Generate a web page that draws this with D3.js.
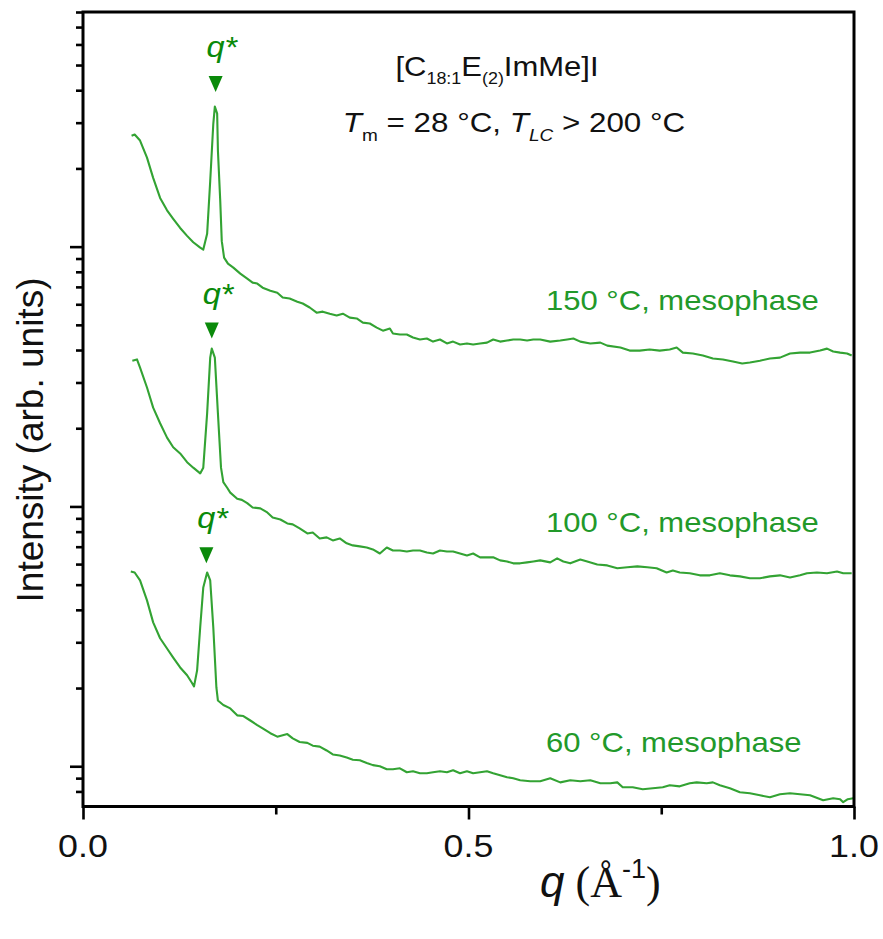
<!DOCTYPE html>
<html><head><meta charset="utf-8">
<script src="https://cdn.jsdelivr.net/npm/d3@7"></script>
<style>body{margin:0;background:#fff} svg{display:block}</style>
</head><body>
<svg id="c" width="883" height="939"></svg>
<script>
// ---- data: [q (1/Å), intensity (arb. units)] ----
const curve150 = [[0.063,267],[0.067,270],[0.074,256],[0.083,220],[0.091,184],[0.100,154],[0.109,138],[0.117,128],[0.126,118],[0.135,110],[0.143,104],[0.152,99.1],[0.156,97.4],[0.161,112],[0.165,179],[0.169,297],[0.171,346],[0.174,325],[0.175,234],[0.178,150],[0.180,105],[0.183,90.7],[0.188,86.0],[0.195,83.0],[0.204,78.7],[0.213,75.3],[0.220,72.7],[0.226,72.1],[0.233,69.5],[0.243,67.7],[0.252,66.5],[0.259,63.7],[0.268,63.1],[0.278,61.4],[0.285,60.4],[0.294,58.3],[0.303,55.7],[0.311,56.2],[0.320,55.2],[0.329,54.3],[0.337,55.2],[0.346,53.3],[0.355,52.9],[0.363,51.0],[0.372,50.6],[0.381,48.8],[0.389,47.5],[0.398,48.4],[0.402,46.3],[0.411,45.9],[0.420,45.9],[0.428,44.7],[0.437,43.9],[0.446,44.3],[0.454,43.1],[0.463,43.9],[0.472,42.4],[0.480,43.1],[0.489,42.0],[0.498,42.4],[0.506,42.0],[0.515,42.4],[0.524,42.7],[0.532,43.9],[0.541,43.1],[0.550,43.5],[0.558,43.9],[0.567,43.9],[0.576,43.5],[0.584,43.9],[0.593,43.9],[0.606,43.1],[0.619,43.5],[0.628,43.9],[0.636,44.3],[0.645,43.1],[0.658,42.4],[0.671,42.7],[0.680,41.6],[0.697,40.9],[0.709,39.8],[0.722,39.8],[0.735,40.2],[0.748,39.8],[0.761,40.2],[0.770,40.9],[0.778,39.1],[0.791,38.8],[0.804,38.1],[0.817,37.1],[0.830,36.8],[0.843,36.1],[0.855,35.5],[0.865,35.8],[0.878,36.4],[0.891,37.1],[0.904,37.4],[0.917,38.8],[0.930,39.1],[0.943,39.1],[0.956,39.8],[0.965,40.5],[0.973,39.5],[0.982,39.1],[0.991,38.8],[0.997,38.1]];

const curve100 = [[0.064,36.4],[0.070,36.8],[0.074,34.2],[0.083,28.7],[0.091,24.0],[0.100,20.9],[0.109,18.4],[0.117,16.9],[0.126,16.0],[0.135,14.8],[0.143,14.1],[0.152,13.4],[0.156,14.1],[0.161,22.8],[0.165,37.4],[0.167,40.5],[0.171,37.4],[0.175,22.8],[0.179,14.1],[0.182,12.4],[0.187,11.8],[0.191,11.3],[0.200,10.7],[0.206,10.6],[0.213,10.3],[0.220,9.91],[0.230,9.83],[0.239,9.48],[0.246,9.07],[0.256,8.91],[0.265,8.60],[0.272,8.53],[0.281,8.23],[0.291,7.87],[0.298,7.94],[0.307,7.53],[0.316,7.60],[0.324,7.40],[0.333,7.53],[0.342,7.21],[0.350,7.08],[0.359,7.02],[0.368,6.95],[0.376,6.83],[0.385,6.59],[0.394,6.95],[0.402,6.77],[0.411,6.77],[0.420,6.71],[0.428,6.77],[0.437,6.77],[0.446,6.65],[0.454,6.59],[0.463,6.77],[0.472,6.71],[0.480,6.71],[0.489,6.59],[0.498,6.48],[0.506,6.59],[0.515,6.37],[0.524,6.37],[0.532,6.37],[0.541,6.20],[0.550,6.14],[0.558,6.04],[0.567,6.04],[0.576,6.09],[0.584,6.14],[0.593,6.20],[0.606,6.09],[0.615,6.31],[0.623,6.14],[0.632,6.04],[0.645,6.25],[0.654,6.14],[0.667,5.98],[0.680,5.93],[0.693,5.78],[0.706,5.83],[0.719,5.88],[0.732,5.83],[0.744,5.78],[0.757,5.57],[0.765,5.67],[0.774,5.57],[0.787,5.53],[0.800,5.43],[0.813,5.43],[0.826,5.53],[0.839,5.43],[0.852,5.38],[0.865,5.29],[0.878,5.29],[0.891,5.38],[0.904,5.43],[0.917,5.33],[0.930,5.43],[0.939,5.53],[0.952,5.57],[0.965,5.53],[0.978,5.62],[0.986,5.53],[0.997,5.53]];

const curve60 = [[0.062,5.62],[0.067,5.57],[0.074,5.19],[0.083,4.35],[0.091,3.58],[0.100,3.11],[0.109,2.84],[0.117,2.62],[0.126,2.40],[0.135,2.24],[0.141,2.10],[0.144,2.03],[0.148,2.34],[0.152,3.42],[0.156,4.88],[0.161,5.57],[0.165,5.19],[0.169,3.42],[0.173,2.01],[0.175,1.79],[0.182,1.72],[0.191,1.67],[0.200,1.57],[0.208,1.56],[0.217,1.50],[0.226,1.44],[0.233,1.40],[0.243,1.34],[0.252,1.30],[0.265,1.33],[0.272,1.28],[0.281,1.24],[0.291,1.23],[0.298,1.20],[0.307,1.19],[0.316,1.15],[0.324,1.11],[0.333,1.10],[0.342,1.08],[0.350,1.06],[0.359,1.055],[0.368,1.03],[0.376,1.01],[0.385,1.00],[0.394,0.974],[0.402,0.974],[0.411,0.982],[0.420,0.948],[0.428,0.957],[0.437,0.940],[0.446,0.940],[0.454,0.948],[0.463,0.957],[0.472,0.948],[0.480,0.965],[0.489,0.940],[0.498,0.957],[0.506,0.940],[0.515,0.948],[0.524,0.957],[0.532,0.940],[0.541,0.923],[0.550,0.907],[0.558,0.899],[0.567,0.883],[0.580,0.876],[0.593,0.876],[0.606,0.899],[0.619,0.867],[0.632,0.883],[0.645,0.876],[0.658,0.883],[0.671,0.860],[0.684,0.860],[0.693,0.867],[0.700,0.830],[0.713,0.830],[0.726,0.816],[0.739,0.823],[0.752,0.830],[0.761,0.845],[0.774,0.837],[0.787,0.860],[0.796,0.867],[0.809,0.860],[0.817,0.867],[0.826,0.845],[0.839,0.823],[0.852,0.794],[0.865,0.787],[0.878,0.773],[0.891,0.760],[0.904,0.780],[0.917,0.787],[0.930,0.780],[0.943,0.773],[0.960,0.740],[0.973,0.753],[0.982,0.747],[0.986,0.727],[0.992,0.747],[0.999,0.753]];

const seriesLabels = ["150 °C, mesophase", "100 °C, mesophase", "60 °C, mesophase"];
// q* markers: [q, intensity of the arrow tip]
const peakMarkers = [[0.172, 394], [0.167, 44.3], [0.160, 6.04]];
const xMajorTicks = [0, 0.5, 1.0];
const xMinorTicks = [0.25, 0.75];
const xTickLabels = ["0.0", "0.5", "1.0"];
const yMajorTicks = [1, 10, 100];
const yMinorTicks = [0.8, 0.9, 2, 3, 4, 5, 6, 7, 8, 9, 20, 30, 40, 50, 60, 70, 80, 90, 200, 300, 400, 500, 600, 700, 800];

// ---- layout ----
const L = 83, R = 854, T = 12, B = 806.5;
const SX = 1.12;
const LINE = "#33a333", TXT = "#22992a", MARK = "#0a8a0a";
const SANS = "'Liberation Sans', Arial, sans-serif";
const SERIF = "'Liberation Serif', 'Times New Roman', serif";

const svg = d3.select("#c");
const x = d3.scaleLinear().domain([0, 1]).range([L, R]);
const y = d3.scaleLog().domain([0.7, 800]).range([B, T]);

function stretched(px, py, anchor) {
  return svg.append("g").attr("transform", `translate(${px},${py}) scale(${SX},1)`)
    .append("text").attr("text-anchor", anchor || "start").attr("font-family", SANS);
}

// curves
const line = d3.line().x(d => x(d[0])).y(d => y(d[1]));
[curve150, curve100, curve60].forEach(c => {
  svg.append("path").datum(c).attr("d", line)
    .attr("fill", "none").attr("stroke", LINE).attr("stroke-width", 2.1)
    .attr("stroke-linejoin", "round");
});

// axes ticks
const gx = svg.append("g").attr("transform", `translate(0,${B})`);
gx.call(d3.axisBottom(x).tickValues(xMajorTicks).tickSize(13).tickFormat(""));
gx.append("g").call(d3.axisBottom(x).tickValues(xMinorTicks).tickSize(8).tickFormat(""));
const gy = svg.append("g").attr("transform", `translate(${L},0)`);
gy.call(d3.axisLeft(y).tickValues(yMajorTicks).tickSize(13).tickFormat(""));
gy.append("g").call(d3.axisLeft(y).tickValues(yMinorTicks).tickSize(7).tickFormat(""));
svg.selectAll(".domain").remove();
svg.selectAll(".tick line").attr("stroke", "#000").attr("stroke-width", 2.6);

// frame
svg.append("rect").attr("x", L).attr("y", T).attr("width", R - L).attr("height", B - T)
  .attr("fill", "none").attr("stroke", "#000").attr("stroke-width", 3);

// x tick labels
xMajorTicks.forEach((v, i) => {
  stretched(x(v), 857, "middle").attr("font-size", 32).attr("fill", "#111").text(xTickLabels[i]);
});

// axis titles
svg.append("text").attr("transform", `translate(43,${440}) rotate(-90)`)
  .attr("text-anchor", "middle").attr("font-family", SANS).attr("font-size", 37).attr("fill", "#111")
  .text("Intensity (arb. units)");

const xt = svg.append("text").attr("x", 540).attr("y", 897).attr("font-size", 44).attr("fill", "#111");
xt.append("tspan").attr("font-family", SANS).attr("font-style", "italic").text("q");
xt.append("tspan").attr("font-family", SERIF).text(" (Å");
xt.append("tspan").attr("font-family", SANS).attr("font-size", 27).attr("dy", -19).text("-1");
xt.append("tspan").attr("font-family", SERIF).attr("dy", 19).text(")");

// title lines
const t1 = stretched(497, 76, "middle").attr("font-size", 27.7).attr("fill", "#111");
t1.append("tspan").text("[C");
t1.append("tspan").attr("font-size", 16).attr("dy", 8).text("18:1");
t1.append("tspan").attr("dy", -8).text("E");
t1.append("tspan").attr("font-size", 16).attr("dy", 8).text("(2)");
t1.append("tspan").attr("dy", -8).text("ImMe]I");

const t2 = stretched(514, 132, "middle").attr("font-size", 28).attr("fill", "#111");
t2.append("tspan").attr("font-style", "italic").text("T");
t2.append("tspan").attr("font-size", 17).attr("dy", 9).text("m");
t2.append("tspan").attr("dy", -9).text(" = 28 °C, ");
t2.append("tspan").attr("font-style", "italic").text("T");
t2.append("tspan").attr("font-size", 17).attr("font-style", "italic").attr("dy", 9).text("LC");
t2.append("tspan").attr("dy", -9).text(" > 200 °C");

// series labels
const labelBase = [310, 532, 752];
seriesLabels.forEach((s, i) => {
  stretched(546, labelBase[i], "start").attr("font-size", 27.7).attr("fill", TXT).text(s);
});

// q* markers
peakMarkers.forEach(m => {
  const cx = x(m[0]), tip = y(m[1]);
  svg.append("path").attr("d", `M${cx - 7},${tip - 16}L${cx + 7},${tip - 16}L${cx},${tip}Z`).attr("fill", MARK);
  const t = stretched(cx - 9, tip - 35, "start").attr("font-size", 29).attr("fill", MARK);
  t.append("tspan").attr("font-style", "italic").text("q");
  t.append("tspan").attr("dx", 1).text("*");
});
</script>
</body></html>
